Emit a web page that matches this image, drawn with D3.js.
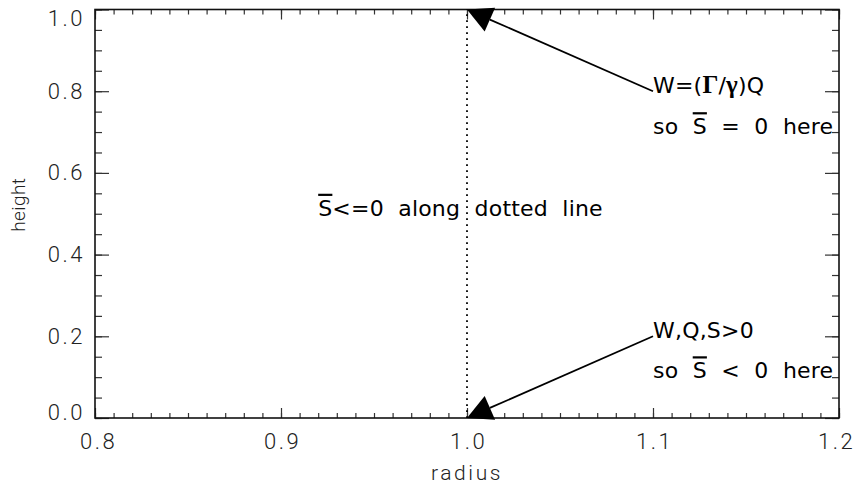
<!DOCTYPE html>
<html><head><meta charset="utf-8">
<script src="https://cdn.jsdelivr.net/npm/d3@7"></script>
<style>
html,body{margin:0;padding:0;background:#fff;}
svg{display:block;}
.tl{font-family:Roboto,"DejaVu Sans",sans-serif;font-weight:300;fill:#222;}
.ann{font-family:"DejaVu Sans",sans-serif;fill:#000;}
.grk{font-family:"Liberation Serif","DejaVu Serif",serif;font-weight:bold;}
</style></head>
<body><svg id="c" width="858" height="485"></svg>
<script>
// ---- data ----
const xDomain = [0.8, 1.2];
const yDomain = [0.0, 1.0];
const xTicks = [0.8, 0.9, 1.0, 1.1, 1.2];
const yTicks = [0.0, 0.2, 0.4, 0.6, 0.8, 1.0];
const xMinorStep = 0.01;
const yMinorStep = 0.05;
const xTitle = "radius";
const yTitle = "height";
const dottedX = 1.0;
// arrows: [tailX, tailY] -> [headX, headY]
const arrowTails = [[1.1, 0.8], [1.1, 0.2]];
const arrowHeads = [[1.0, 1.0], [1.0, 0.0]];
const midLabelPos = [0.92, 0.5];

const W = 858, H = 485;
const m = {l: 95, r: 19, t: 9.5, b: 67};
const svg = d3.select("#c");
const x = d3.scaleLinear().domain(xDomain).range([m.l, W - m.r]);
const y = d3.scaleLinear().domain(yDomain).range([H - m.b, m.t]);
const x0 = m.l, x1 = W - m.r, y0 = H - m.b, y1 = m.t;

const fmt = d3.format(".1f");
const xMinor = d3.range(Math.round((xDomain[1]-xDomain[0])/xMinorStep)+1).map(i => xDomain[0] + i*xMinorStep);
const yMinor = d3.range(Math.round((yDomain[1]-yDomain[0])/yMinorStep)+1).map(i => yDomain[0] + i*yMinorStep);

function styleAxis(g){ g.select(".domain").remove(); g.selectAll(".tick line").attr("stroke","#333").attr("stroke-width",1.2); }
svg.append("g").attr("transform",`translate(0,${y0})`)
  .call(d3.axisBottom(x).tickValues(xMinor).tickSize(-5).tickFormat(""))
  .call(styleAxis);
svg.append("g").attr("transform",`translate(0,${y0})`)
  .call(d3.axisBottom(x).tickValues(xTicks).tickSize(-10).tickPadding(15).tickFormat(fmt))
  .call(styleAxis)
  .call(g => g.selectAll("text").attr("class","tl").attr("font-size",22).attr("letter-spacing",2.5)
     .attr("dx", d => d === xDomain[0] ? 3 : (d === xDomain[1] ? -3 : 1)));
svg.append("g").attr("transform",`translate(0,${y1})`)
  .call(d3.axisTop(x).tickValues(xMinor).tickSize(-5).tickFormat(""))
  .call(styleAxis);
svg.append("g").attr("transform",`translate(0,${y1})`)
  .call(d3.axisTop(x).tickValues(xTicks).tickSize(-10).tickFormat(""))
  .call(styleAxis);
svg.append("g").attr("transform",`translate(${x0},0)`)
  .call(d3.axisLeft(y).tickValues(yMinor).tickSize(-7).tickFormat(""))
  .call(styleAxis);
svg.append("g").attr("transform",`translate(${x0},0)`)
  .call(d3.axisLeft(y).tickValues(yTicks).tickSize(-14).tickPadding(10).tickFormat(fmt))
  .call(styleAxis)
  .call(g => g.selectAll("text").attr("class","tl").attr("font-size",22).attr("letter-spacing",2.5)
     .attr("y", d => d === yDomain[1] ? 9 : (d === yDomain[0] ? -6 : 0)));
svg.append("g").attr("transform",`translate(${x1},0)`)
  .call(d3.axisRight(y).tickValues(yMinor).tickSize(-7).tickFormat(""))
  .call(styleAxis);
svg.append("g").attr("transform",`translate(${x1},0)`)
  .call(d3.axisRight(y).tickValues(yTicks).tickSize(-14).tickFormat(""))
  .call(styleAxis);

// frame
svg.append("rect").attr("x",x0).attr("y",y1).attr("width",x1-x0).attr("height",y0-y1)
  .attr("fill","none").attr("stroke","#111").attr("stroke-width",1.6);

// titles
svg.append("text").attr("class","tl").attr("font-size",21).attr("letter-spacing",2.6)
  .attr("x",(x0+x1)/2).attr("y",480).attr("text-anchor","middle").text(xTitle);
svg.append("text").attr("class","tl").attr("font-size",19).attr("letter-spacing",0.4)
  .attr("transform",`translate(25,${(y0+y1)/2 - 9}) rotate(-90)`).attr("text-anchor","middle").text(yTitle);

// dotted line
svg.append("line").attr("x1",x(dottedX)).attr("x2",x(dottedX)).attr("y1",y(yDomain[0])).attr("y2",y(yDomain[1]))
  .attr("stroke","#000").attr("stroke-width",1.8).attr("stroke-dasharray","1.8,4.2");

// arrows
arrowTails.forEach((t,i) => {
  const h = arrowHeads[i];
  const tx = x(t[0]), ty = y(t[1]), hx = x(h[0]), hy = y(h[1]);
  const ang = Math.atan2(hy-ty, hx-tx);
  const L = 25, Wd = 13;
  const bx = hx - L*Math.cos(ang), by = hy - L*Math.sin(ang);
  svg.append("line").attr("x1",tx).attr("y1",ty).attr("x2",bx).attr("y2",by).attr("stroke","#000").attr("stroke-width",1.8);
  const p1 = [bx + Wd*Math.sin(ang), by - Wd*Math.cos(ang)];
  const p2 = [bx - Wd*Math.sin(ang), by + Wd*Math.cos(ang)];
  svg.append("path").attr("d",`M${hx},${hy}L${p1[0]},${p1[1]}L${p2[0]},${p2[1]}Z`).attr("fill","#000");
});

function ann(px, py, parts){
  const t = svg.append("text").attr("class","ann").attr("font-size",22).attr("x",px).attr("y",py)
    .attr("letter-spacing",0.2).style("white-space","pre");
  parts.forEach(p => {
    const s = t.append("tspan").text(p[0]);
    if (p[1]) s.attr("class",p[1]).attr("font-size",25);
    if (p[2]) s.style("text-decoration","overline");
  });
  return t;
}
const ax = x(arrowTails[0][0]);
ann(ax, y(arrowTails[0][1]) + 2, [["W=("],["Γ","grk"],["/"],["γ","grk"],[")Q"]]);
ann(ax, y(arrowTails[0][1]) + 43, [["so  "],["S",null,true],["  =  0  here"]]);
ann(ax, y(arrowTails[1][1]) + 2, [["W,Q,S>0"]]);
ann(ax, y(arrowTails[1][1]) + 42, [["so  "],["S",null,true],["  <  0  here"]]);
ann(x(midLabelPos[0]), y(midLabelPos[1]) + 2, [["S",null,true],["<=0  along  dotted  line"]]);
</script></body></html>
